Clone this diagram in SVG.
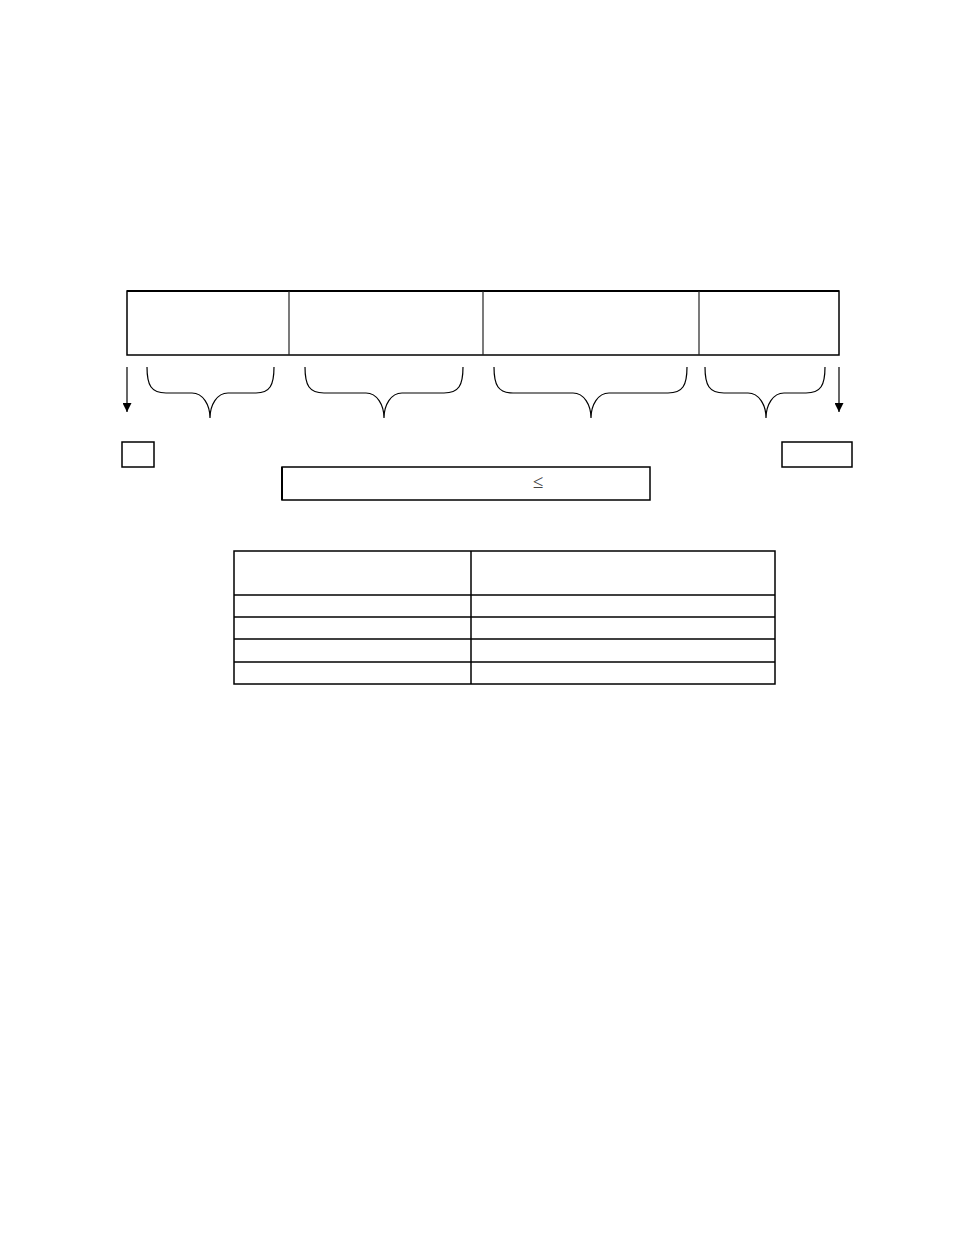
<svg xmlns="http://www.w3.org/2000/svg" width="954" height="1235" viewBox="0 0 954 1235">
<style>
.box{fill:#fff;stroke:#000;stroke-width:1.5}
.div{stroke:#222;stroke-width:1.2;fill:none}
.brace{fill:none;stroke:#000;stroke-width:1.2}
.arrow{stroke:#000;stroke-width:1.2;fill:none}
.tbl{fill:none;stroke:#000;stroke-width:1.5}
.sym{font-family:"Liberation Serif",serif;font-size:19px;fill:#444}
</style>
<defs>
<marker id="ah" viewBox="0 0 10 10" refX="10" refY="5" markerWidth="9" markerHeight="9" markerUnits="userSpaceOnUse" orient="auto">
<path d="M0,0 L10,5 L0,10 Z" fill="#000"/>
</marker>
</defs>
<rect width="954" height="1235" fill="#fff"/>
<g id="frame">
<rect class="box" x="127" y="291" width="712" height="64"/>
<line x1="127" y1="291" x2="839" y2="291" stroke="#000" stroke-width="2"/>
<line class="div" x1="289" y1="291" x2="289" y2="355"/>
<line class="div" x1="483" y1="291" x2="483" y2="355"/>
<line class="div" x1="699" y1="291" x2="699" y2="355"/>
</g>
<g id="connectors">
<line class="arrow" x1="127" y1="367" x2="127" y2="412" marker-end="url(#ah)"/>
<line class="arrow" x1="839" y1="367" x2="839" y2="412" marker-end="url(#ah)"/>
<path class="brace" d="M147,367 C147,385 151,393 166,393 L192,393 C203,393 210,405 210,418 C210,405 217,393 228,393 L256,393 C270,393 274,385 274,367"/>
<path class="brace" d="M305,367 C305,385 309,393 324,393 L366,393 C377,393 384,405 384,418 C384,405 391,393 402,393 L444,393 C459,393 463,385 463,367"/>
<path class="brace" d="M494,367 C494,385 498,393 513,393 L573,393 C584,393 591,405 591,418 C591,405 598,393 609,393 L668,393 C683,393 687,385 687,367"/>
<path class="brace" d="M705,367 C705,385 709,393 724,393 L748,393 C759,393 766,405 766,418 C766,405 773,393 784,393 L806,393 C821,393 825,385 825,367"/>
</g>
<g id="start">
<rect class="box" x="122" y="442" width="32" height="25"/>
</g>
<g id="end">
<rect class="box" x="782" y="442" width="70" height="25"/>
</g>
<g id="condition">
<rect class="box" x="282" y="467" width="368" height="33"/>
<line x1="282" y1="467" x2="282" y2="500" stroke="#000" stroke-width="2"/>
<text class="sym" x="538" y="488" text-anchor="middle">≤</text>
</g>
<g id="table">
<rect class="tbl" x="234" y="551" width="541" height="133"/>
<line class="tbl" x1="471" y1="551" x2="471" y2="684"/>
<line class="tbl" x1="234" y1="595" x2="775" y2="595"/>
<line class="tbl" x1="234" y1="617" x2="775" y2="617"/>
<line class="tbl" x1="234" y1="639" x2="775" y2="639"/>
<line class="tbl" x1="234" y1="662" x2="775" y2="662"/>
</g>
</svg>
